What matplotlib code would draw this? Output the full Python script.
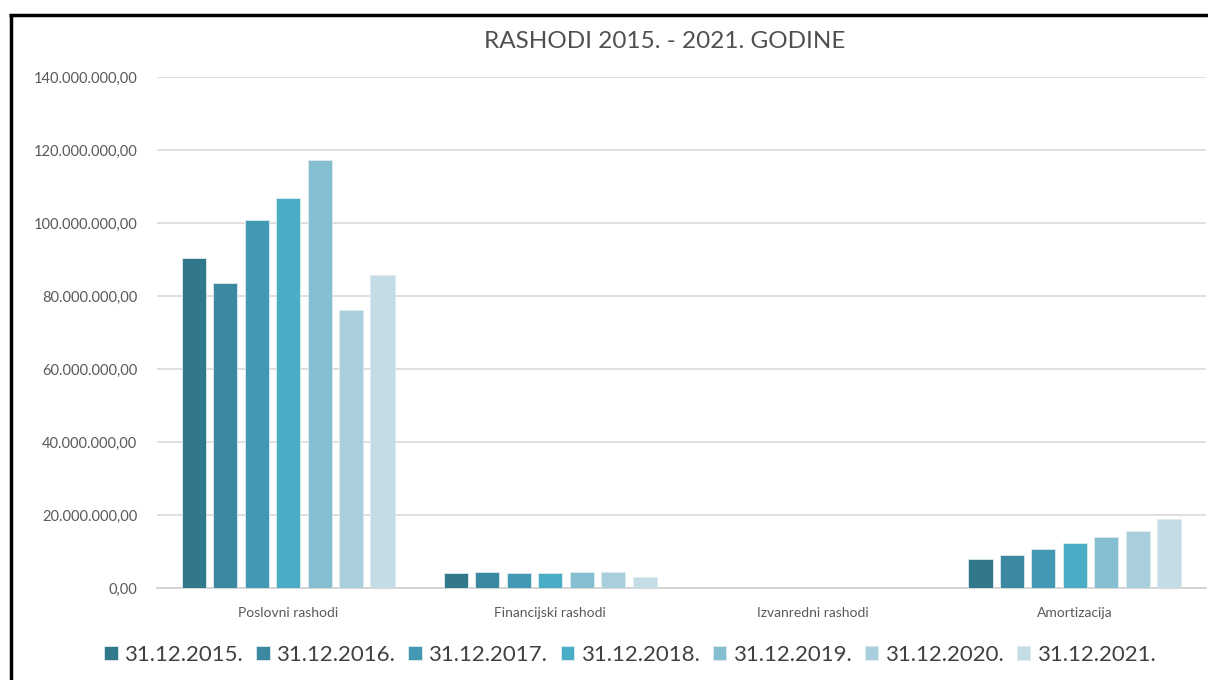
import matplotlib
matplotlib.use("Agg")
import matplotlib.pyplot as plt
import numpy as np
from matplotlib.lines import Line2D
from matplotlib.ticker import FuncFormatter

categories = ["Poslovni rashodi", "Financijski rashodi", "Izvanredni rashodi", "Amortizacija"]
series_labels = ["31.12.2015.", "31.12.2016.", "31.12.2017.", "31.12.2018.",
                 "31.12.2019.", "31.12.2020.", "31.12.2021."]
v2015 = [90.3e6, 4.0e6, 0, 7.9e6]
v2016 = [83.6e6, 4.5e6, 0, 9.0e6]
v2017 = [100.8e6, 4.0e6, 0, 10.6e6]
v2018 = [106.8e6, 4.0e6, 0, 12.2e6]
v2019 = [117.3e6, 4.5e6, 0, 13.9e6]
v2020 = [76.3e6, 4.5e6, 0, 15.5e6]
v2021 = [85.8e6, 2.9e6, 0, 18.8e6]
series = [v2015, v2016, v2017, v2018, v2019, v2020, v2021]
colors = ["#31788A", "#3A89A0", "#4399B3", "#4BACC6", "#85BDD1", "#A9CEDC", "#C3DCE6"]

plt.rcParams['font.family'] = ['Lato', 'DejaVu Sans']

fig = plt.figure(figsize=(12.08, 6.8), dpi=100)
ax = fig.add_axes([157/1208, 1-588/680, 1049/1208, (588-77)/680])
ax.patch.set_alpha(0)

x = np.arange(len(categories))
step = 0.12
width = 0.092
for i, (vals, lab, c) in enumerate(zip(series, series_labels, colors)):
    ax.bar(x + (i - 3) * step, vals, width, color=c, label=lab,
           edgecolor="#DDEBF0", linewidth=0.6, zorder=3)

ax.set_xlim(-0.5, 3.5)
ax.set_ylim(0, 140e6)
ax.set_yticks(np.arange(0, 140e6 + 1, 20e6))

def fmt(v, pos):
    s = f"{v:,.2f}"
    return s.replace(",", "X").replace(".", ",").replace("X", ".")
ax.yaxis.set_major_formatter(FuncFormatter(fmt))
ax.grid(axis="y", color="#D9D9D9", linewidth=1.2, zorder=0)
for sp in ["top", "right", "left"]:
    ax.spines[sp].set_visible(False)
ax.spines["bottom"].set_color("#D0D0D0")
ax.spines["bottom"].set_linewidth(1.2)
ax.tick_params(axis="y", length=0, pad=14, labelsize=10.5, labelcolor="#595959")
ax.tick_params(axis="x", length=0, pad=14, labelsize=10, labelcolor="#595959")
ax.set_xticks(x)
ax.set_xticklabels(categories)

fig.text(665/1208, 1-41/680, "RASHODI 2015. - 2021. GODINE", ha="center", va="center",
         fontsize=17.5, color="#505050")

leg = fig.legend(loc="center", bbox_to_anchor=(630/1208, 1-655/680), ncol=7, frameon=False,
                 fontsize=16, handlelength=0.6, handleheight=0.6, handletextpad=0.3,
                 columnspacing=0.6, labelcolor="#404040")

xl = 10.5/1208
yt = 1 - 14.5/680
fig.add_artist(Line2D([xl, xl], [-0.05, yt], transform=fig.transFigure,
                      color="black", linewidth=2.5, solid_capstyle="butt"))
fig.add_artist(Line2D([xl - 1.25/1208, 1.05], [yt, yt], transform=fig.transFigure,
                      color="black", linewidth=2.5, solid_capstyle="butt"))

fig.savefig("out.png", dpi=100)
